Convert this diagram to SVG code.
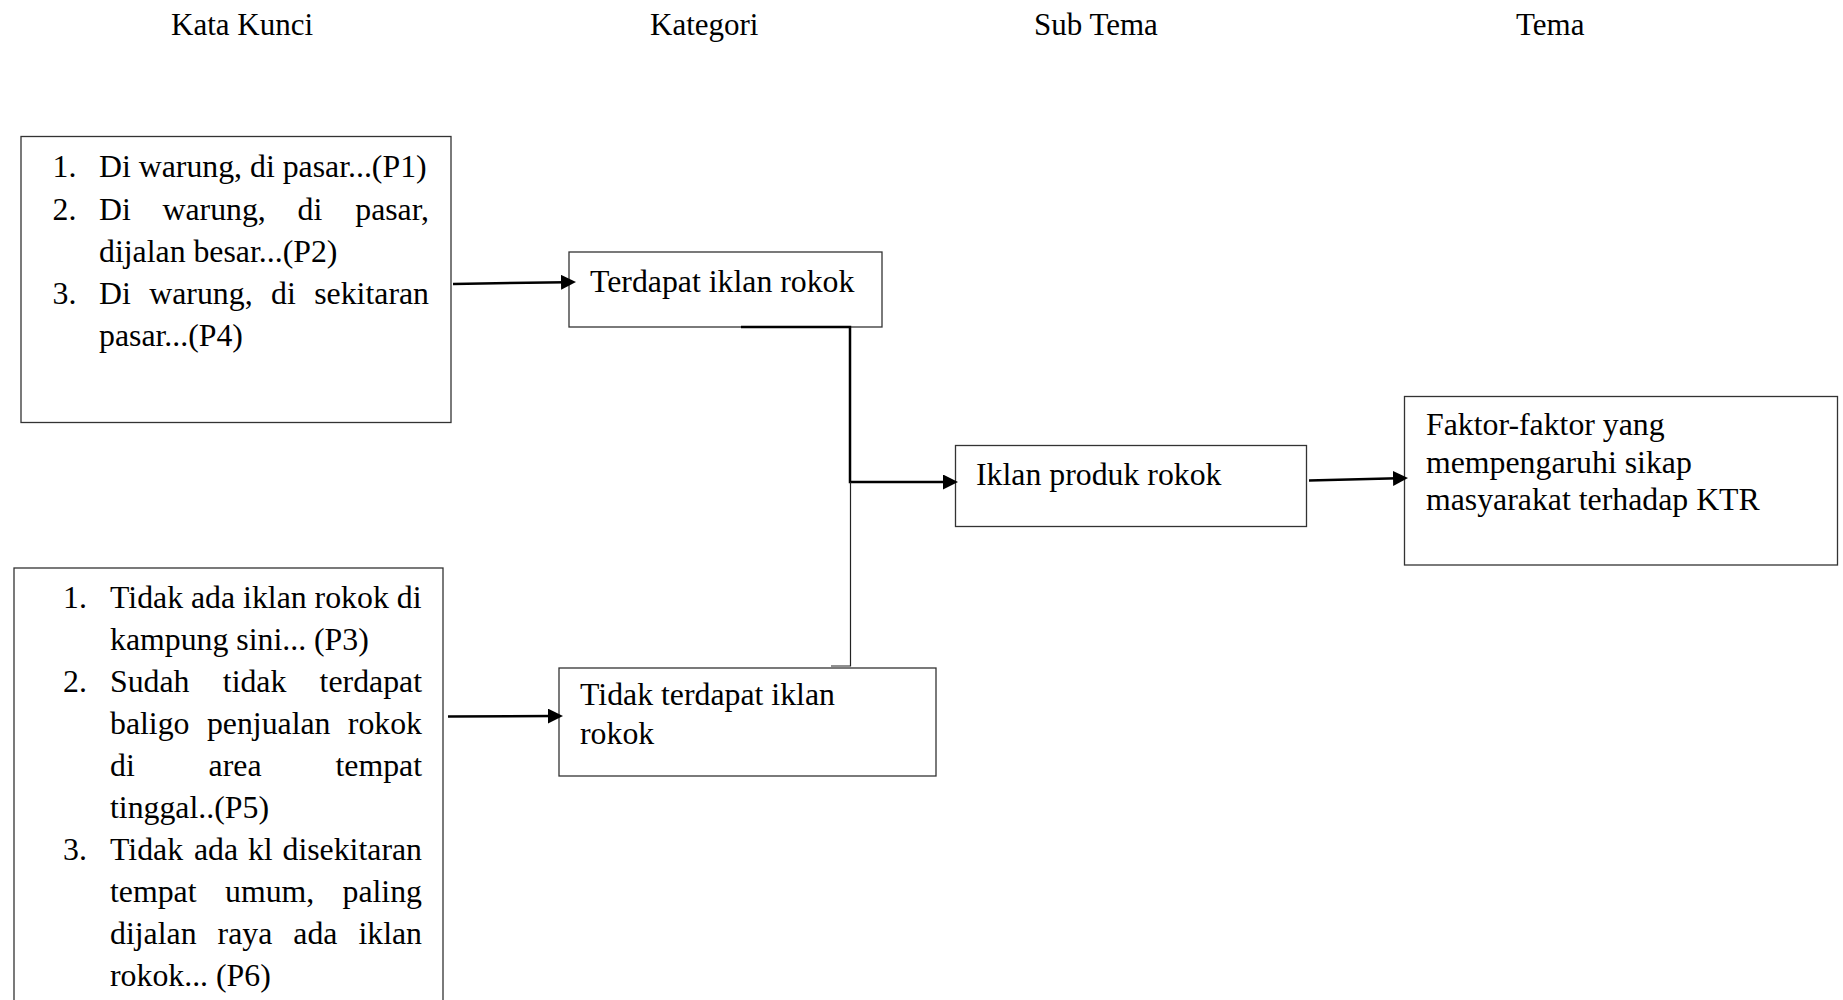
<svg xmlns="http://www.w3.org/2000/svg" width="1843" height="1000" viewBox="0 0 1843 1000">
  <defs>
    <style>
      text { font-family: "Liberation Serif", "Times New Roman", serif; font-size: 31.8px; fill: #000; }
      .head { font-size: 31px; }
      .box { fill: #fff; stroke: #333; stroke-width: 1.3; }
      .flow { fill: none; stroke: #000; stroke-width: 2.5; }
      .thin { fill: none; stroke: #222; stroke-width: 1.2; }
      .end { text-anchor: end; }
    </style>
    <marker id="arr" markerUnits="userSpaceOnUse" markerWidth="16" markerHeight="16" refX="5" refY="7.5" orient="auto">
      <path d="M0,0 L15,7.5 L0,15 z" fill="#000"/>
    </marker>
  </defs>
  <rect width="1843" height="1000" fill="#fff"/>

  <!-- column headings -->
  <g id="headings">
    <text class="head" x="171" y="35">Kata Kunci</text>
    <text class="head" x="650" y="35">Kategori</text>
    <text class="head" x="1034" y="35">Sub Tema</text>
    <text class="head" x="1516" y="35">Tema</text>
  </g>

  <!-- keyword list: places with cigarette ads -->
  <g id="kata-kunci-1">
    <rect class="box" x="21" y="136.5" width="430" height="286"/>
    <text x="52.5" y="177">1.</text>
    <text x="99" y="177">Di warung, di pasar...(P1)</text>
    <text x="52.5" y="219.5">2.</text>
    <text x="99" y="219.5">Di</text>
    <text x="162.5" y="219.5">warung,</text>
    <text x="297.6" y="219.5">di</text>
    <text class="end" x="429" y="219.5">pasar,</text>
    <text x="99" y="261.5">dijalan besar...(P2)</text>
    <text x="52.5" y="304">3.</text>
    <text x="99" y="304">Di</text>
    <text x="149.3" y="304">warung,</text>
    <text x="271" y="304">di</text>
    <text class="end" x="429" y="304">sekitaran</text>
    <text x="99" y="346">pasar...(P4)</text>
  </g>

  <!-- keyword list: no cigarette ads -->
  <g id="kata-kunci-2">
    <rect class="box" x="14" y="568" width="429" height="450"/>
    <text x="63" y="608">1.</text>
    <text x="110" y="608">Tidak ada iklan rokok di</text>
    <text x="110" y="650">kampung sini... (P3)</text>
    <text x="63" y="692">2.</text>
    <text x="110" y="692">Sudah</text>
    <text x="222.8" y="692">tidak</text>
    <text class="end" x="422" y="692">terdapat</text>
    <text x="110" y="734">baligo</text>
    <text x="206.9" y="734">penjualan</text>
    <text class="end" x="422" y="734">rokok</text>
    <text x="110" y="776">di</text>
    <text x="208.6" y="776">area</text>
    <text class="end" x="422" y="776">tempat</text>
    <text x="110" y="818">tinggal..(P5)</text>
    <text x="63" y="860">3.</text>
    <text x="110" y="860">Tidak</text>
    <text x="194" y="860">ada</text>
    <text x="247.9" y="860">kl</text>
    <text class="end" x="422" y="860">disekitaran</text>
    <text x="110" y="902">tempat</text>
    <text x="225" y="902">umum,</text>
    <text class="end" x="422" y="902">paling</text>
    <text x="110" y="944">dijalan</text>
    <text x="217.6" y="944">raya</text>
    <text x="293.3" y="944">ada</text>
    <text class="end" x="422" y="944">iklan</text>
    <text x="110" y="986">rokok... (P6)</text>
  </g>

  <g id="kategori-terdapat">
    <rect class="box" x="569" y="252" width="313" height="75"/>
    <text x="590" y="292">Terdapat iklan rokok</text>
  </g>

  <g id="kategori-tidak">
    <rect class="box" x="559" y="668" width="377" height="108"/>
    <text x="580" y="705">Tidak terdapat iklan</text>
    <text x="580" y="744">rokok</text>
  </g>

  <g id="sub-tema">
    <rect class="box" x="955.5" y="445.5" width="351" height="81"/>
    <text x="976" y="485">Iklan produk rokok</text>
  </g>

  <g id="tema">
    <rect class="box" x="1404.5" y="396.5" width="433" height="168.5"/>
    <text x="1426" y="435">Faktor-faktor yang</text>
    <text x="1426" y="472.7">mempengaruhi sikap</text>
    <text x="1426" y="510">masyarakat terhadap KTR</text>
  </g>

  <!-- connectors -->
  <g id="connectors">
    <path class="flow" d="M453,284 L566,282.2" marker-end="url(#arr)"/>
    <path class="flow" d="M448,716.5 L553,716.1" marker-end="url(#arr)"/>
    <path class="flow" d="M741,327 H850 V482 H948" marker-end="url(#arr)"/>
    <path class="thin" d="M850.5,482 V666 H831"/>
    <path class="flow" d="M1309,480.5 L1398,478.3" marker-end="url(#arr)"/>
  </g>
</svg>
